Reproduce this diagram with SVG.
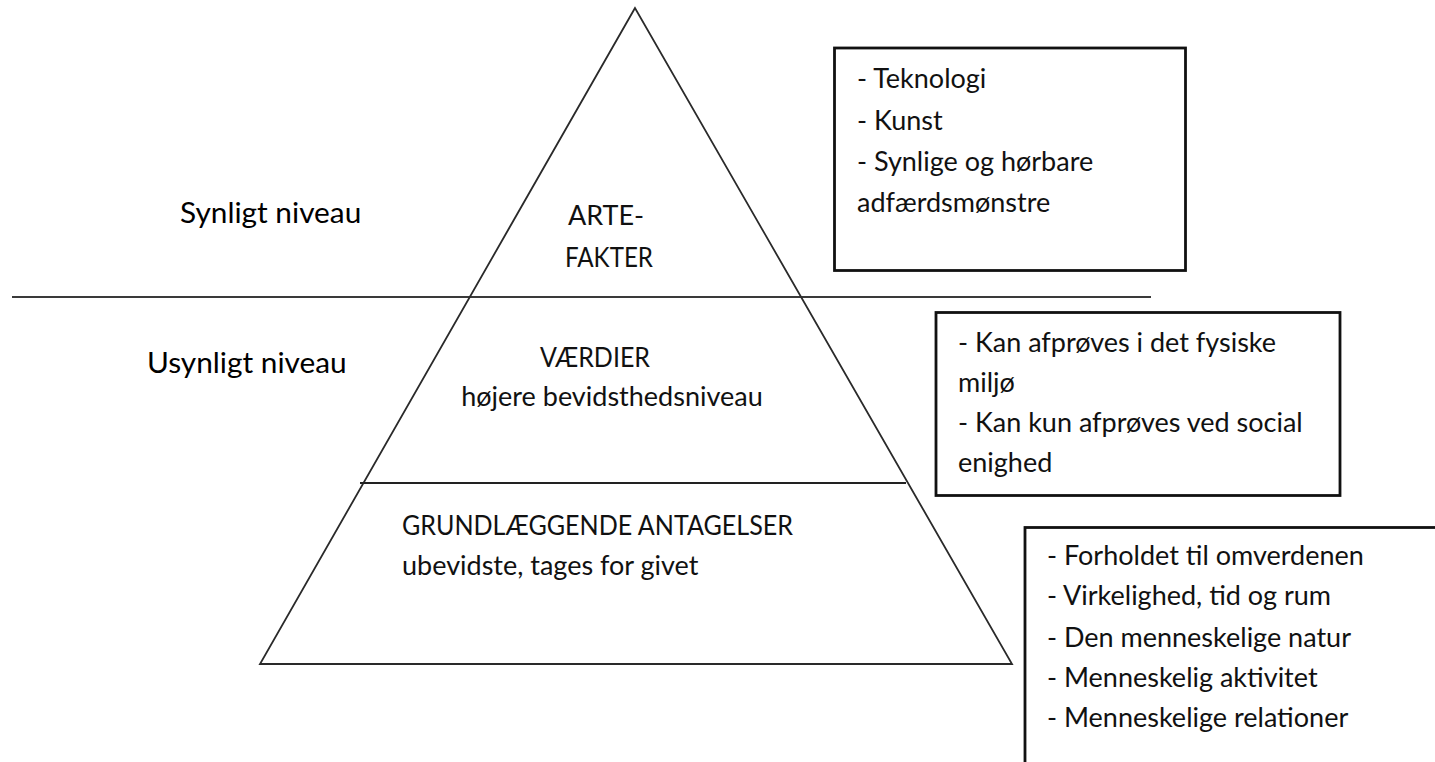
<svg xmlns="http://www.w3.org/2000/svg" width="1435" height="762" viewBox="0 0 1435 762">
<style>
  text { font-family: Lato, "Open Sans", "Liberation Sans", sans-serif; font-size: 27px; fill: #111; }
  .lvl { font-size: 29.8px; fill: #000; }
  .box { fill: #fff; stroke: #111; stroke-width: 2.8; }
  .tri { fill: none; stroke: #2a2a2a; stroke-width: 1.8; stroke-linejoin: miter; }
  .sep { stroke: #3a3a3a; stroke-width: 2.2; }
  .mid { stroke: #222; stroke-width: 2.2; }
  .c { text-anchor: middle; }
</style>
<rect width="1435" height="762" fill="#fff"/>
<g id="connectors">
  <line class="sep" x1="12" y1="297" x2="1151" y2="297"/>
</g>
<g id="pyramid">
  <polygon class="tri" points="635,8 260,664 1012,664"/>
  <line class="mid" x1="360" y1="483" x2="906" y2="483"/>
</g>
<g id="artefakter">
  <text class="c" x="606" y="225">ARTE-</text>
  <text class="c" x="609" y="267" textLength="88" lengthAdjust="spacingAndGlyphs">FAKTER</text>
</g>
<g id="vaerdier">
  <text class="c" x="595" y="367" textLength="110" lengthAdjust="spacingAndGlyphs">VÆRDIER</text>
  <text class="c" x="612" y="406">højere bevidsthedsniveau</text>
</g>
<g id="antagelser">
  <text x="402" y="535" textLength="391" lengthAdjust="spacingAndGlyphs">GRUNDLÆGGENDE ANTAGELSER</text>
  <text x="402" y="575">ubevidste, tages for givet</text>
</g>
<g id="synligt">
  <text class="lvl" x="180" y="223">Synligt niveau</text>
</g>
<g id="usynligt">
  <text class="lvl" x="147" y="373">Usynligt niveau</text>
</g>
<g id="box-artefakter">
  <rect class="box" x="834.5" y="48" width="351" height="222.5"/>
  <text x="857" y="88">- Teknologi</text>
  <text x="857" y="130">- Kunst</text>
  <text x="857" y="171">- Synlige og hørbare</text>
  <text x="857" y="212">adfærdsmønstre</text>
</g>
<g id="box-vaerdier">
  <rect class="box" x="936" y="312.5" width="404" height="183"/>
  <text x="958" y="352">- Kan afprøves i det fysiske</text>
  <text x="958" y="392">miljø</text>
  <text x="958" y="432">- Kan kun afprøves ved social</text>
  <text x="958" y="472">enighed</text>
</g>
<g id="box-antagelser">
  <rect class="box" x="1025" y="527.5" width="430" height="260"/>
  <text x="1047" y="565">- Forholdet til omverdenen</text>
  <text x="1047" y="605">- Virkelighed, tid og rum</text>
  <text x="1047" y="647">- Den menneskelige natur</text>
  <text x="1047" y="687">- Menneskelig aktivitet</text>
  <text x="1047" y="727">- Menneskelige relationer</text>
</g>
</svg>
